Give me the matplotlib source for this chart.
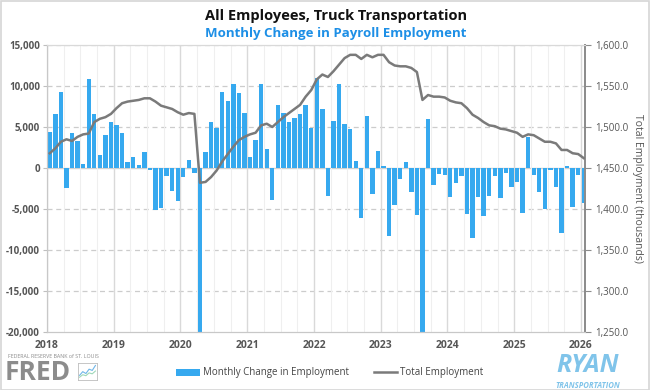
import numpy as np
import matplotlib
matplotlib.use("Agg")
import matplotlib.pyplot as plt
from matplotlib.patches import Rectangle, Patch
from matplotlib.lines import Line2D
from matplotlib.ticker import FuncFormatter, MultipleLocator

plt.rcParams['font.family'] = ['Open Sans', 'DejaVu Sans']

# monthly change in payroll employment, Jan 2018 .. Jan 2026
chg_2018 = [4400, 6600, 9300, -2500, 4300, 3300, 500, 10800, 6600, 1600, 4000, 5600]
chg_2019 = [5300, 4300, 700, 1400, 400, 1900, -200, -5100, -4900, -1000, -2800, -4000]
chg_2020 = [-1100, 1000, -600, -88000, 1900, 5600, 4900, 9300, 8200, 10200, 9200, 6700]
chg_2021 = [1300, 3400, 10200, 2300, -3900, 7700, 6700, 5600, 6100, 6600, 7700, 4900]
chg_2022 = [11000, 7200, -3400, 5700, 10200, 5400, 4700, 900, -6100, 6400, -3200, 2100]
chg_2023 = [300, -8300, -4500, -1300, 700, -2900, -5700, -37000, 6000, -2100, -700, -800]
chg_2024 = [-3500, -1800, -1000, -5600, -8500, -3500, -5900, -3400, -1000, -3600, -600, -2300]
chg_2025 = [-1700, -5500, 3800, -800, -2900, -5000, -200, -2300, -7900, 300, -4800, -900]
chg_2026 = [-4300]

# total employment (thousands), same months
tot_2018 = [1468, 1474, 1482, 1485, 1483, 1488, 1491, 1492, 1506, 1510, 1512, 1516]
tot_2019 = [1523, 1529, 1531, 1532, 1533, 1535, 1535, 1531, 1526, 1524, 1522, 1518]
tot_2020 = [1515, 1517, 1516, 1432, 1433, 1439, 1447, 1458, 1467, 1476, 1484, 1488]
tot_2021 = [1491, 1493, 1502, 1504, 1500, 1506, 1512, 1517, 1522, 1527, 1537, 1545]
tot_2022 = [1558, 1564, 1561, 1568, 1576, 1584, 1588, 1588, 1583, 1588, 1585, 1588]
tot_2023 = [1588, 1579, 1575, 1574, 1574, 1572, 1567, 1533, 1539, 1537, 1537, 1536]
tot_2024 = [1532, 1530, 1529, 1523, 1515, 1511, 1506, 1502, 1501, 1498, 1497, 1495]
tot_2025 = [1493, 1488, 1491, 1490, 1486, 1482, 1482, 1480, 1472, 1472, 1468, 1467]
tot_2026 = [1462]

change = np.array(chg_2018 + chg_2019 + chg_2020 + chg_2021 + chg_2022 +
                  chg_2023 + chg_2024 + chg_2025 + chg_2026)
total = np.array(tot_2018 + tot_2019 + tot_2020 + tot_2021 + tot_2022 +
                 tot_2023 + tot_2024 + tot_2025 + tot_2026)
years = list(range(2018, 2027))

x = 2018 + (np.arange(len(change)) + 0.5) / 12.0

BLUE = '#36a9ef'
GRAY = '#7a7a7a'

fig = plt.figure(figsize=(6.5, 3.9), dpi=100)
ax = fig.add_axes([47/650, 1-332/390, (585-47)/650, (332-45)/390])
ax2 = ax.twinx()

ax.set_xlim(2018, 2026.06)
ax.set_ylim(-20000, 15000)
ax2.set_ylim(1250, 1600)

# grid
ax.set_xticks(years)
ax.xaxis.set_minor_locator(MultipleLocator(0.25))
ax.grid(True, axis='x', which='major', color='#d9d9d9', lw=1.0, zorder=0)
ax.grid(True, axis='x', which='minor', color='#efefef', lw=0.8, zorder=0)
for yv in range(-15000, 15001, 5000):
    if yv == 0:
        continue
    ax.axhline(yv, color='#cccccc', lw=0.9, ls=(0, (4, 3)), zorder=0)
ax.axhline(0, color='#d0d0d0', lw=1.0, zorder=1)

ax.bar(x, change, width=0.78/12, color=BLUE, zorder=2)
ax2.plot(x, total, color=GRAY, lw=1.8, zorder=3)

ax.set_yticks(range(-20000, 15001, 5000))
ax.yaxis.set_major_formatter(FuncFormatter(lambda v, p: f'{int(v):,}'))
ax.tick_params(axis='y', which='major', labelsize=7, colors='#bfbfbf', length=3,
               labelcolor='#555555', pad=2)
for t in ax.get_yticklabels():
    t.set_fontweight('bold')
ax.tick_params(axis='x', which='both', length=0, labelsize=7.5, labelcolor='#555555', pad=6)
for t in ax.get_xticklabels():
    t.set_fontweight('bold')

ax2.set_yticks(range(1250, 1601, 50))
ax2.yaxis.set_major_formatter(FuncFormatter(lambda v, p: f'{v:,.1f}'))
ax2.tick_params(axis='y', labelsize=7, colors='#8c8c8c', length=4, labelcolor='#555555', pad=3)
ax2.set_ylabel('Total Employment (thousands)', rotation=270, labelpad=11,
               fontsize=7.5, color='#555555')

for a in (ax, ax2):
    a.spines['left'].set_color('#c8c8c8')
    a.spines['top'].set_color('#d9d9d9')
    a.spines['bottom'].set_color('#c8c8c8')
    a.spines['right'].set_color('#8c8c8c')
    a.spines['right'].set_linewidth(1.3)

# titles
fig.text(336/650, 1-16/390, 'All Employees, Truck Transportation', ha='center', va='center',
         fontsize=10.5, fontweight='bold', color='#111111')
fig.text(336/650, 1-33/390, 'Monthly Change in Payroll Employment', ha='center', va='center',
         fontsize=9.5, fontweight='bold', color='#1d8fe6')

# legend
handles = [Patch(facecolor=BLUE, edgecolor='none'),
           Line2D([0], [0], color=GRAY, lw=1.8)]
fig.legend(handles, ['Monthly Change in Employment', 'Total Employment'],
           loc='center', bbox_to_anchor=(330/650, 1-373/390), ncol=2, frameon=False,
           fontsize=7, handlelength=2.4, handletextpad=0.3, columnspacing=2.6,
           labelcolor='#444444')

# FRED mark
fig.text(8/650, 1-356/390, 'FEDERAL RESERVE BANK of ST. LOUIS', fontsize=3.8,
         color='#8a8a8a', va='center', ha='left')
fig.text(5/650, 1-373/390, 'FRED', fontsize=19, fontweight='bold', color='#8c8c8c',
         va='center', ha='left')
icon = fig.add_axes([78/650, 1-380/390, 19/650, 17/390])
icon.plot([0, 1, 2, 3, 4, 5], [1, 2.2, 1.6, 3, 2.6, 4.2], color='#6fb6e8', lw=0.8)
icon.plot([0, 1, 2, 3, 4, 5], [0.4, 1.2, 0.9, 1.8, 1.5, 2.4], color='#9fd8b8', lw=0.8)
icon.set_xlim(-0.5, 5.5)
icon.set_ylim(-0.5, 5)
icon.set_xticks([])
icon.set_yticks([])
for s in icon.spines.values():
    s.set_color('#bdbdbd')
    s.set_linewidth(0.6)

# RYAN mark
fig.text(588/650, 1-365/390, 'RYAN', fontsize=18, fontweight='bold', style='italic',
         color='#80c4ea', va='center', ha='center')
fig.text(588/650, 1-385/390, 'TRANSPORTATION', fontsize=5.6, fontweight='bold',
         style='italic', color='#80c4ea', va='center', ha='center')

fig.patches.append(Rectangle((0.001, 0.001), 0.998, 0.997, transform=fig.transFigure,
                             fill=False, edgecolor='#d6d6d6', lw=1.2))

fig.savefig('out.png', dpi=100)
